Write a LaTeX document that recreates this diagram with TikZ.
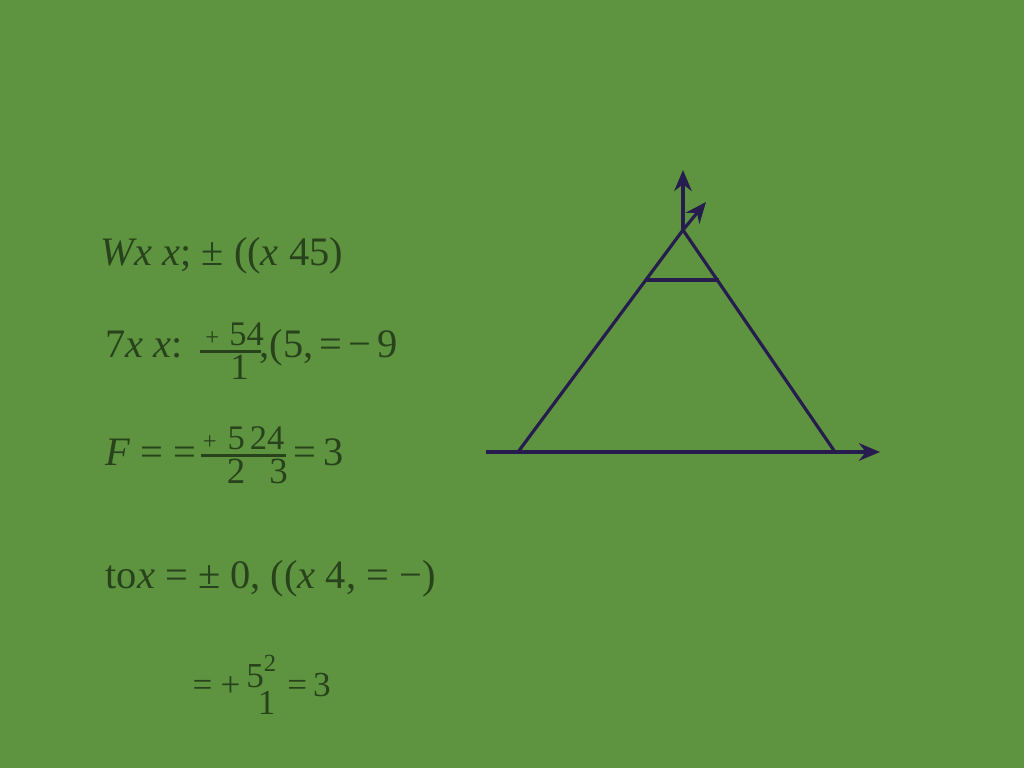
\documentclass[tikz,border=0pt]{standalone}
\usepackage{amsmath}
\usepackage{fontspec}
\setmainfont{Liberation Serif}
\usetikzlibrary{arrows.meta}
\definecolor{board}{RGB}{94,148,64}
\definecolor{chalk}{RGB}{40,66,28}
\definecolor{ink}{RGB}{38,28,78}
% fraction: width of bar, numerator, denominator
\newcommand\tfr[3]{$\genfrac{}{}{0.7pt}{1}%
  {\text{\fontsize{9.8}{12}\selectfont\makebox[#1][l]{#2}}}%
  {\text{\fontsize{10.5}{12}\selectfont\makebox[#1][l]{#3}}}$}
\newcommand\sm[1]{{\fontsize{7}{8}\selectfont #1}}
\tikzset{
  formula/.style={anchor=base west,inner sep=0pt,text=chalk,
    font=\fontsize{11.5}{14}\selectfont},
  small formula/.style={formula,font=\fontsize{10}{12}\selectfont},
  edge/.style={draw=ink,line width=0.9pt},
  axis/.style={edge,-{Stealth[length=6pt,width=5pt]}}
}
\begin{document}
\begin{tikzpicture}[x=0.01cm,y=-0.01cm]
\fill[color=board] (0,0) rectangle (1024,768);
\useasboundingbox (0,0) rectangle (1024,768);

\node[formula] (eqa) at (100,266) {\textit{Wx x}; ± ((\textit{x} 45)};
\node[formula] (eqb) at (105,358) {7\textit{x x}:\kern1.3mm\raisebox{-0.4mm}{\tfr{6.1mm}{\kern0.5mm\sm{+}\kern1.0mm 54}{\kern3mm 1}}\kern-0.6mm,(5,\kern0.6mm=\kern0.6mm−\kern0.6mm9};
\node[formula] (eqc) at (105,466) {\textit{F} = =\tfr{8.5mm}{\kern0.2mm\sm{+}\kern1.1mm 5\kern0.5mm24}{\kern2.6mm 2\kern2.4mm 3}\kern0.3mm=\kern0.8mm3};
\node[formula] (eqd) at (105,589) {to\textit{x} = ± 0, ((\textit{x} 4, = −)};
\node[small formula] (eqe) at (192,697) {=\kern0.8mm+\kern0.6mm\raisebox{0.9mm}{5}\rlap{\kern-0.6mm\raisebox{-1.7mm}{1}}\raisebox{2.5mm}{\sm{2}}\kern1.1mm=\kern0.6mm3};

\coordinate (apex) at (683,230);
\coordinate (bl) at (518,452);
\coordinate (br) at (835,452);
\coordinate (axl) at (486,452);
\coordinate (axr) at (880,452);
\coordinate (up) at (683,170);
\coordinate (tilt) at (706,202);
\coordinate (barl) at (646,280);
\coordinate (barr) at (719,280);

\draw[axis] (axl) -- (axr);
\draw[edge] (bl) -- (apex) -- (br);
\draw[edge] (barl) -- (barr);
\draw[axis] (apex) -- (up);
\draw[axis] (apex) -- (tilt);
\end{tikzpicture}
\end{document}
